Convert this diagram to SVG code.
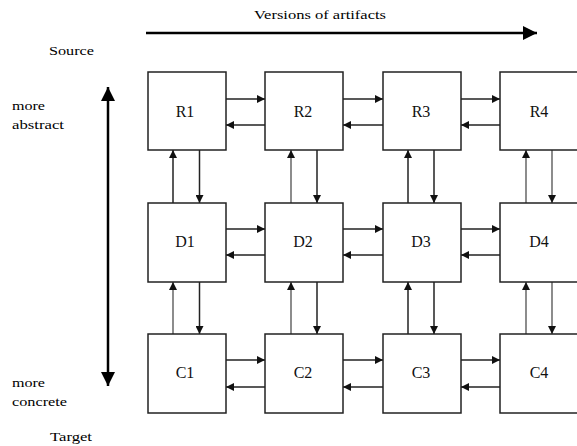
<svg xmlns="http://www.w3.org/2000/svg" width="577" height="446" viewBox="0 0 577 446">
<style>
.box{fill:#fff;stroke:#222;stroke-width:1.5}
.lbl{font-family:"Liberation Serif",serif;font-size:16px;fill:#111;text-anchor:middle}
.txt{font-family:"Liberation Serif",serif;font-size:13.5px;fill:#000}
.c{fill:none;stroke:#222;stroke-width:1.5}
.g{fill:none;stroke:#707070;stroke-width:1.6}
.big{fill:none;stroke:#000;stroke-width:2.5}
</style>
<defs>
<marker id="ah" viewBox="0 0 10 10" refX="10" refY="5" markerWidth="8" markerHeight="8" markerUnits="userSpaceOnUse" orient="auto"><path d="M0,0 L10,5 L0,10 z" fill="#111"/></marker>
<marker id="bh" viewBox="0 0 10 10" refX="10" refY="5" markerWidth="14" markerHeight="14" markerUnits="userSpaceOnUse" orient="auto"><path d="M0,0 L10,5 L0,10 z" fill="#000"/></marker>
</defs>
<text class="txt" x="254" y="19" textLength="132" lengthAdjust="spacingAndGlyphs">Versions of artifacts</text>
<text class="txt" x="49" y="55" textLength="45" lengthAdjust="spacingAndGlyphs">Source</text>
<text class="txt" x="12" y="110" textLength="33" lengthAdjust="spacingAndGlyphs">more</text>
<text class="txt" x="12" y="129" textLength="52" lengthAdjust="spacingAndGlyphs">abstract</text>
<text class="txt" x="12" y="387" textLength="33" lengthAdjust="spacingAndGlyphs">more</text>
<text class="txt" x="12" y="406" textLength="55" lengthAdjust="spacingAndGlyphs">concrete</text>
<text class="txt" x="50" y="441" textLength="42" lengthAdjust="spacingAndGlyphs">Target</text>
<g id="connectors">
<line class="big" x1="146" y1="33" x2="537" y2="33" marker-end="url(#bh)"/>
<line class="big" x1="108" y1="240" x2="108" y2="87" marker-end="url(#bh)"/>
<line class="big" x1="108" y1="240" x2="108" y2="386" marker-end="url(#bh)"/>
<line class="c" x1="226" y1="99" x2="265" y2="99" marker-end="url(#ah)"/>
<line class="c" x1="265" y1="125" x2="226" y2="125" marker-end="url(#ah)"/>
<line class="c" x1="343" y1="99" x2="383" y2="99" marker-end="url(#ah)"/>
<line class="c" x1="383" y1="125" x2="343" y2="125" marker-end="url(#ah)"/>
<line class="c" x1="461" y1="99" x2="500" y2="99" marker-end="url(#ah)"/>
<line class="c" x1="500" y1="125" x2="461" y2="125" marker-end="url(#ah)"/>
<line class="c" x1="226" y1="229" x2="265" y2="229" marker-end="url(#ah)"/>
<line class="c" x1="265" y1="255" x2="226" y2="255" marker-end="url(#ah)"/>
<line class="c" x1="343" y1="229" x2="383" y2="229" marker-end="url(#ah)"/>
<line class="c" x1="383" y1="255" x2="343" y2="255" marker-end="url(#ah)"/>
<line class="c" x1="461" y1="229" x2="500" y2="229" marker-end="url(#ah)"/>
<line class="c" x1="500" y1="255" x2="461" y2="255" marker-end="url(#ah)"/>
<line class="c" x1="226" y1="360" x2="265" y2="360" marker-end="url(#ah)"/>
<line class="c" x1="265" y1="387" x2="226" y2="387" marker-end="url(#ah)"/>
<line class="c" x1="343" y1="360" x2="383" y2="360" marker-end="url(#ah)"/>
<line class="c" x1="383" y1="387" x2="343" y2="387" marker-end="url(#ah)"/>
<line class="c" x1="461" y1="360" x2="500" y2="360" marker-end="url(#ah)"/>
<line class="c" x1="500" y1="387" x2="461" y2="387" marker-end="url(#ah)"/>
<line class="c" x1="173" y1="203" x2="173" y2="150" marker-end="url(#ah)"/>
<line class="c" x1="199.5" y1="150" x2="199.5" y2="203" marker-end="url(#ah)"/>
<line class="g" x1="291" y1="203" x2="291" y2="150" marker-end="url(#ah)"/>
<line class="c" x1="317" y1="150" x2="317" y2="203" marker-end="url(#ah)"/>
<line class="c" x1="408" y1="203" x2="408" y2="150" marker-end="url(#ah)"/>
<line class="c" x1="434" y1="150" x2="434" y2="203" marker-end="url(#ah)"/>
<line class="g" x1="526" y1="203" x2="526" y2="150" marker-end="url(#ah)"/>
<line class="g" x1="552" y1="150" x2="552" y2="203" marker-end="url(#ah)"/>
<line class="g" x1="173" y1="334" x2="173" y2="282" marker-end="url(#ah)"/>
<line class="c" x1="199.5" y1="282" x2="199.5" y2="334" marker-end="url(#ah)"/>
<line class="g" x1="291" y1="334" x2="291" y2="282" marker-end="url(#ah)"/>
<line class="c" x1="317" y1="282" x2="317" y2="334" marker-end="url(#ah)"/>
<line class="c" x1="408" y1="334" x2="408" y2="282" marker-end="url(#ah)"/>
<line class="c" x1="434" y1="282" x2="434" y2="334" marker-end="url(#ah)"/>
<line class="g" x1="526" y1="334" x2="526" y2="282" marker-end="url(#ah)"/>
<line class="g" x1="552" y1="282" x2="552" y2="334" marker-end="url(#ah)"/>
</g>
<g id="R1"><rect class="box" x="148" y="72" width="78" height="78"/><text class="lbl" x="185" y="117">R1</text></g>
<g id="R2"><rect class="box" x="265" y="72" width="78" height="78"/><text class="lbl" x="303" y="117">R2</text></g>
<g id="R3"><rect class="box" x="383" y="72" width="78" height="78"/><text class="lbl" x="421" y="117">R3</text></g>
<g id="R4"><rect class="box" x="500" y="72" width="78" height="78"/><text class="lbl" x="539" y="117">R4</text></g>
<g id="D1"><rect class="box" x="148" y="203" width="78" height="79"/><text class="lbl" x="185" y="247">D1</text></g>
<g id="D2"><rect class="box" x="265" y="203" width="78" height="79"/><text class="lbl" x="303" y="247">D2</text></g>
<g id="D3"><rect class="box" x="383" y="203" width="78" height="79"/><text class="lbl" x="421" y="247">D3</text></g>
<g id="D4"><rect class="box" x="500" y="203" width="78" height="79"/><text class="lbl" x="539" y="247">D4</text></g>
<g id="C1"><rect class="box" x="148" y="334" width="78" height="79"/><text class="lbl" x="185" y="378">C1</text></g>
<g id="C2"><rect class="box" x="265" y="334" width="78" height="79"/><text class="lbl" x="303" y="378">C2</text></g>
<g id="C3"><rect class="box" x="383" y="334" width="78" height="79"/><text class="lbl" x="421" y="378">C3</text></g>
<g id="C4"><rect class="box" x="500" y="334" width="78" height="79"/><text class="lbl" x="539" y="378">C4</text></g>
</svg>
